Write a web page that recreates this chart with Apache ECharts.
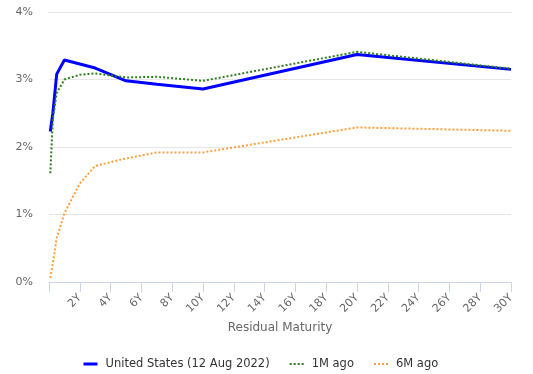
<!DOCTYPE html>
<html>
<head>
<meta charset="utf-8">
<script src="https://cdn.jsdelivr.net/npm/echarts@6/dist/echarts.min.js"></script>
<style>html,body{margin:0;padding:0;background:#fff}#c{width:533px;height:374px}</style>
</head>
<body>
<div id="c"></div>
<script>
// Maturities in years
const maturities = [1/12, 0.25, 0.5, 1, 2, 3, 5, 7, 10, 20, 30];
const usNow   = [2.23, 2.50, 3.08, 3.29, 3.23, 3.17, 2.98, 2.93, 2.86, 3.37, 3.15];
const oneMAgo = [1.61, 2.42, 2.80, 3.00, 3.07, 3.09, 3.03, 3.04, 2.98, 3.41, 3.16];
const sixMAgo = [0.06, 0.28, 0.65, 1.02, 1.46, 1.72, 1.83, 1.92, 1.92, 2.29, 2.24];
const xTickValues = [0, 2, 4, 6, 8, 10, 12, 14, 16, 18, 20, 22, 24, 26, 28, 30];
const xTickLabels = ['', '2Y', '4Y', '6Y', '8Y', '10Y', '12Y', '14Y', '16Y', '18Y', '20Y', '22Y', '24Y', '26Y', '28Y', '30Y'];
const yTickLabels = ['0%', '1%', '2%', '3%', '4%'];
const seriesNames = ['United States (12 Aug 2022)', '1M ago', '6M ago'];

const pair = arr => maturities.map((m, i) => [m, arr[i]]);
const font = 'DejaVu Sans';
const chart = echarts.init(document.getElementById('c'), null, {renderer: 'canvas'});
chart.setOption({
  animation: false,
  textStyle: {fontFamily: font},
  grid: {left: 49, right: 22, top: 12, bottom: 92},
  legend: {
    bottom: -1, left: 77, itemGap: 19, itemWidth: 14, itemHeight: 10,
    itemStyle: {opacity: 0},
    textStyle: {fontFamily: font, fontSize: 11.5, color: '#333', padding: [0, 0, 0, 3]},
    data: [
      {name: seriesNames[0], lineStyle: {width: 3}},
      {name: seriesNames[1], lineStyle: {width: 2, type: [2, 2]}},
      {name: seriesNames[2], lineStyle: {width: 2, type: [2, 2]}}
    ]
  },
  xAxis: {
    type: 'value', min: 0, max: 30, interval: 2,
    name: 'Residual Maturity', nameLocation: 'middle', nameGap: 39,
    nameTextStyle: {fontFamily: font, fontSize: 12, color: '#666'},
    axisLine: {show: true, lineStyle: {color: '#ccd6eb', width: 1}},
    axisTick: {show: true, length: 10, lineStyle: {color: '#ccd6eb'}},
    splitLine: {show: false},
    axisLabel: {
      rotate: 45, fontSize: 11, color: '#666', margin: 14, fontFamily: font,
      formatter: v => { const i = xTickValues.indexOf(v); return i >= 0 ? xTickLabels[i] : ''; }
    }
  },
  yAxis: {
    type: 'value', min: 0, max: 4, interval: 1,
    axisLine: {show: false}, axisTick: {show: false},
    splitLine: {lineStyle: {color: '#e6e6e6', width: 1}},
    axisLabel: {fontSize: 11, color: '#666', margin: 16, fontFamily: font,
      formatter: v => yTickLabels[v]}
  },
  series: [
    {name: seriesNames[0], type: 'line', data: pair(usNow), symbol: 'none', z: 3,
     color: '#0000ff', lineStyle: {color: '#0000ff', width: 3}},
    {name: seriesNames[1], type: 'line', data: pair(oneMAgo), symbol: 'none', z: 4,
     color: '#2e7d1e', lineStyle: {color: '#2e7d1e', width: 2, type: [2, 2]}},
    {name: seriesNames[2], type: 'line', data: pair(sixMAgo), symbol: 'none', z: 2,
     color: '#ff9f3a', lineStyle: {color: '#ff9f3a', width: 2, type: [2, 2]}}
  ]
});
</script>
</body>
</html>
